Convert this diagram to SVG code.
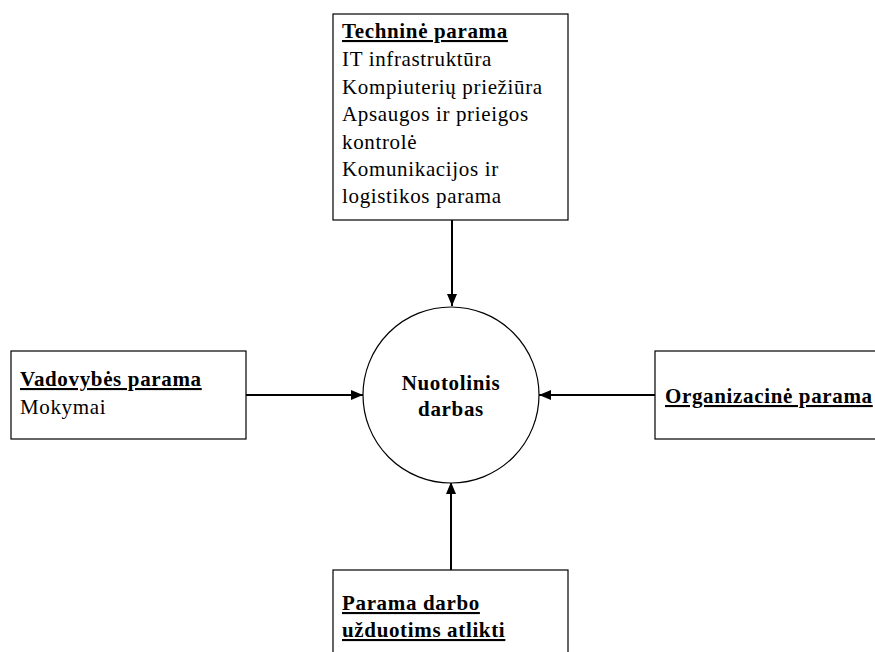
<svg xmlns="http://www.w3.org/2000/svg" width="875" height="652" viewBox="0 0 875 652">
<style>
.box{fill:#fff;stroke:#000;stroke-width:1.2}
.t{font-family:Liberation Serif,Times New Roman,serif;font-size:21px;letter-spacing:0.65px;fill:#000}
.b{font-weight:bold;text-decoration:underline}
.c{font-weight:bold;text-anchor:middle}
.line{stroke:#000;stroke-width:2;fill:none}
</style>
<defs>
<marker id="ah" viewBox="0 0 12 10" refX="12" refY="5" markerWidth="12" markerHeight="10" markerUnits="userSpaceOnUse" orient="auto">
<path d="M0,0 L12,5 L0,10 Z" fill="#000"/>
</marker>
</defs>
<rect width="875" height="652" fill="#fff"/>
<g id="connectors">
<line class="line" x1="452" y1="220" x2="452" y2="306" marker-end="url(#ah)"/>
<line class="line" x1="246" y1="395" x2="363" y2="395" marker-end="url(#ah)"/>
<line class="line" x1="655" y1="395" x2="539" y2="395" marker-end="url(#ah)"/>
<line class="line" x1="451" y1="570" x2="451" y2="482" marker-end="url(#ah)"/>
</g>
<g id="tech">
<rect class="box" x="333" y="14" width="235" height="206"/>
<text class="t b" x="342" y="38">Techninė parama</text>
<text class="t" x="342" y="65.5">IT infrastruktūra</text>
<text class="t" x="342" y="93.5">Kompiuterių priežiūra</text>
<text class="t" x="342" y="121">Apsaugos ir prieigos</text>
<text class="t" x="342" y="148.5">kontrolė</text>
<text class="t" x="342" y="176">Komunikacijos ir</text>
<text class="t" x="342" y="203">logistikos parama</text>
</g>
<g id="center">
<circle cx="451" cy="395" r="88" fill="#fff" stroke="#000" stroke-width="1.2"/>
<text class="t c" x="451" y="390">Nuotolinis</text>
<text class="t c" x="451" y="416">darbas</text>
</g>
<g id="vadovybe">
<rect class="box" x="11" y="351" width="235" height="88"/>
<text class="t b" x="20" y="386">Vadovybės parama</text>
<text class="t" x="20" y="414">Mokymai</text>
</g>
<g id="organizacine">
<rect class="box" x="655" y="351" width="235" height="88"/>
<text class="t b" x="665" y="403">Organizacinė parama</text>
</g>
<g id="uzduotys">
<rect class="box" x="333" y="570" width="235" height="100"/>
<text class="t b" x="342" y="610">Parama darbo</text>
<text class="t b" x="342" y="637">užduotims atlikti</text>
</g>
</svg>
